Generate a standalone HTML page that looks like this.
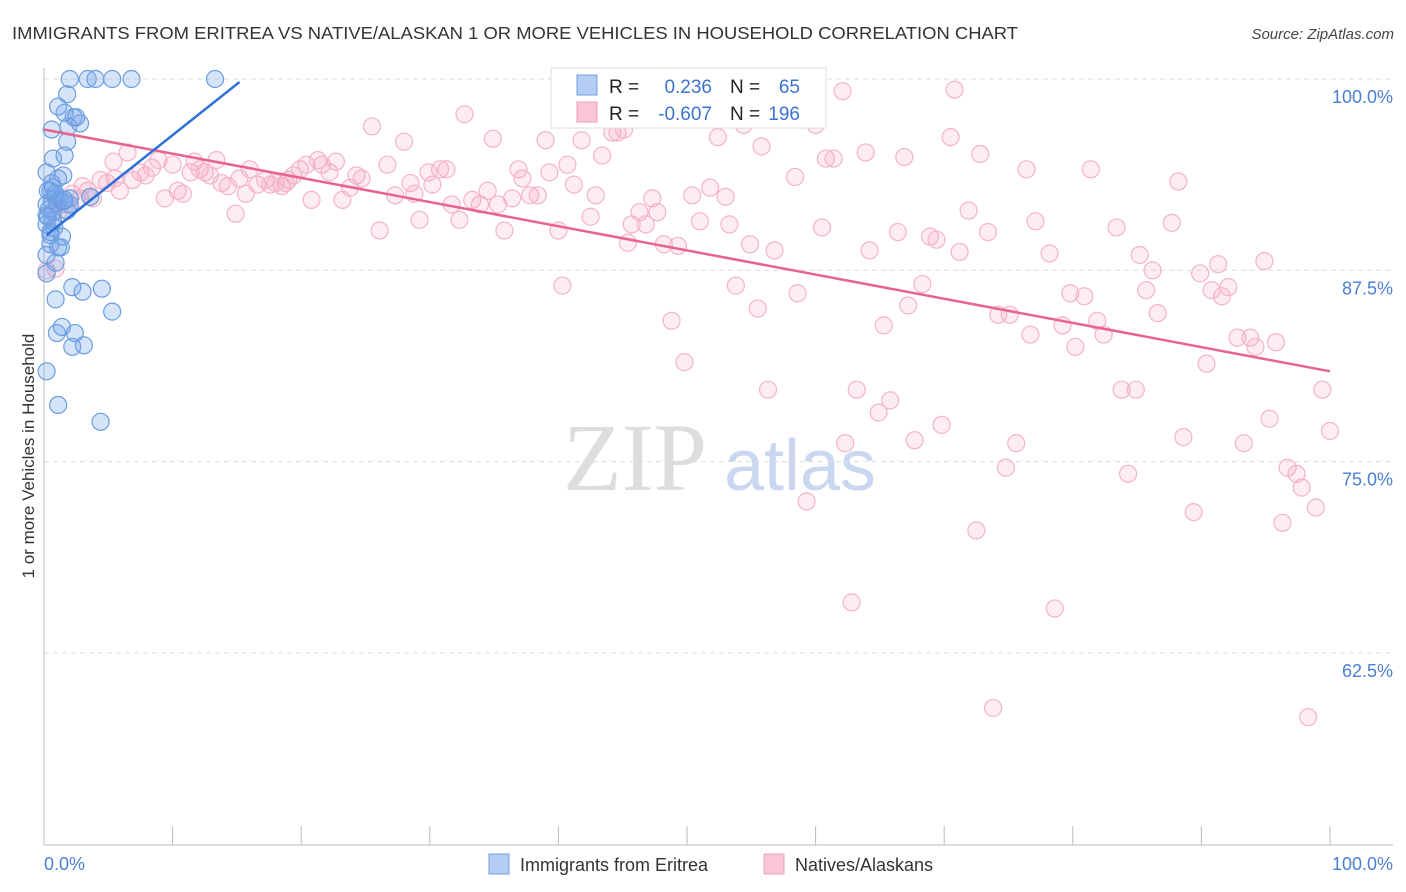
<!DOCTYPE html>
<html><head><meta charset="utf-8"><style>
body{margin:0;background:#fff;font-family:"Liberation Sans",sans-serif;}
svg{display:block}
</style></head><body>
<svg id="chart" width="1406" height="892" xmlns="http://www.w3.org/2000/svg">
<text x="12" y="39" font-size="17.5" fill="#333" textLength="1006" lengthAdjust="spacingAndGlyphs">IMMIGRANTS FROM ERITREA VS NATIVE/ALASKAN 1 OR MORE VEHICLES IN HOUSEHOLD CORRELATION CHART</text>
<text x="1394" y="39" font-size="15" fill="#444" text-anchor="end" font-style="italic">Source: ZipAtlas.com</text>
<text transform="translate(34,456) rotate(-90)" font-size="17" fill="#333" text-anchor="middle">1 or more Vehicles in Household</text>
<g font-size="96" text-anchor="middle"><text x="635" y="490" fill="#ddd" font-family="Liberation Serif">ZIP</text><text x="800" y="490" fill="#c9d8f0" font-size="72">atlas</text></g>
<g id="grid"></g><g id="axes"></g><g id="pts"></g><g id="lines"></g>
<g>
<rect x="551" y="68" width="275" height="60" fill="#fff" stroke="#ddd"/>
<rect x="577" y="75" width="20" height="20" fill="#b5cdf2" stroke="#6d9ee0"/>
<rect x="577" y="102" width="20" height="20" fill="#f9c6d5" stroke="#ee9fb8"/>
<text x="609" y="93" font-size="19" fill="#222">R =</text><text x="712" y="93" font-size="19" fill="#3b73d0" text-anchor="end">0.236</text>
<text x="730" y="93" font-size="19" fill="#222">N =</text><text x="800" y="93" font-size="19" fill="#3b73d0" text-anchor="end">65</text>
<text x="609" y="120" font-size="19" fill="#222">R =</text><text x="712" y="120" font-size="19" fill="#3b73d0" text-anchor="end">-0.607</text>
<text x="730" y="120" font-size="19" fill="#222">N =</text><text x="800" y="120" font-size="19" fill="#3b73d0" text-anchor="end">196</text>
</g>
<g font-size="18" fill="#333">
<rect x="489" y="854" width="20" height="20" fill="#b5cdf2" stroke="#6d9ee0"/>
<text x="520" y="871">Immigrants from Eritrea</text>
<rect x="764" y="854" width="20" height="20" fill="#f9c6d5" stroke="#ee9fb8"/>
<text x="795" y="871">Natives/Alaskans</text>
</g>
<text x="44" y="870" font-size="18" fill="#4a7fd4">0.0%</text>
<text x="1393" y="870" font-size="18" fill="#4a7fd4" text-anchor="end">100.0%</text>
</svg>
<script>
const yTicks=[100,87.5,75,62.5];
const yTickLabels=["100.0%","87.5%","75.0%","62.5%"];
const xTicks=[0,10,20,30,40,50,60,70,80,90,100];
const blueX=[0.2,1.1,4.4,5.3,1.0,1.4,2.2,2.4,3.1,0.2,0.9,2.2,3.0,4.5,0.5,1.1,1.4,0.5,0.7,0.2,0.7,1.0,0.2,0.6,0.9,1.8,2.0,0.3,0.7,1.1,1.5,0.2,0.7,1.6,0.6,1.8,1.9,2.3,2.8,2.5,1.6,1.1,1.8,2.0,3.4,4.0,5.3,6.8,13.3,3.6,0.6,1.2,0.5,0.2,0.9,0.2,1.5,0.4,2.0,0.8,1.3,0.3,0.9,1.6,0.5];
const blueY=[80.9,78.7,77.6,84.8,83.4,83.8,82.5,83.4,82.6,87.3,85.6,86.4,86.1,86.3,89.2,89.0,89.7,90.0,90.7,90.5,91.3,91.9,91.1,92.1,92.3,91.4,91.8,92.7,92.9,93.5,93.7,93.9,94.8,95.0,96.7,95.9,96.9,97.5,97.1,97.5,97.8,98.2,99.0,100,100,100,100,100,100,92.3,93.2,92.1,92.7,91.8,88.0,88.5,92.0,91.5,92.2,90.3,89.0,91.0,92.5,92.1,89.8];
const pinkX=[0.2,0.9,1.2,1.7,2.2,2.8,3.4,3.8,4.4,4.9,5.4,5.9,6.5,6.9,7.5,7.9,8.4,8.9,9.4,10.0,10.4,10.8,11.4,11.7,12.1,12.5,12.9,13.4,13.8,14.3,14.9,15.2,15.7,16.0,16.6,17.2,17.6,18.0,18.5,19.0,19.4,19.9,20.4,20.8,21.3,21.6,22.2,22.7,23.2,23.8,24.3,24.7,25.5,26.1,26.7,27.3,28.0,28.5,28.8,29.2,29.9,30.2,30.8,31.3,31.7,32.3,32.7,33.3,33.9,34.5,34.9,35.3,35.8,36.4,36.9,37.2,37.8,38.4,39.0,39.3,40.0,40.3,40.7,41.2,41.8,42.5,42.9,43.4,44.2,44.6,45.1,45.4,45.7,46.3,46.8,47.3,47.7,48.2,48.8,49.3,49.8,50.4,51.0,51.8,52.4,53.0,53.3,53.8,54.4,54.9,55.5,55.8,56.3,56.8,57.4,58.4,58.6,59.3,60.0,60.5,60.8,61.4,62.1,62.3,62.8,63.2,63.9,64.2,64.9,65.3,65.8,66.4,66.9,67.2,67.7,68.3,68.9,69.4,69.8,70.5,70.8,71.2,71.9,72.5,72.8,73.4,73.8,74.2,74.8,75.1,75.6,76.4,76.7,77.1,78.2,78.6,79.2,79.8,80.2,80.9,81.4,81.9,82.4,83.4,83.8,84.3,84.9,85.2,85.7,86.2,86.6,87.7,88.2,88.6,89.4,89.9,90.4,90.8,91.3,91.6,92.1,92.8,93.3,93.8,94.2,94.9,95.3,95.8,96.3,96.7,97.4,97.8,98.3,98.9,99.4,100,1.0,3.0,5.5,18.8];
const pinkY=[87.5,87.6,91.4,91.8,92.5,92.2,92.7,92.2,93.4,93.2,94.6,92.7,95.2,93.4,93.9,93.7,94.2,94.7,92.2,94.4,92.7,92.5,93.9,94.6,94.1,93.9,93.7,94.7,93.2,93.0,91.2,93.5,92.5,94.1,93.1,93.4,93.1,93.2,93.0,93.4,93.7,94.1,94.4,92.1,94.7,94.4,93.9,94.6,92.1,92.9,93.7,93.5,96.9,90.1,94.4,92.4,95.9,93.2,92.5,90.8,93.9,93.1,94.1,94.1,91.8,90.8,97.7,92.1,91.8,92.7,96.1,91.8,90.1,92.2,94.1,93.5,92.4,92.4,96.0,93.9,90.1,86.5,94.4,93.1,96.0,91.0,92.4,95.0,96.5,96.5,96.7,89.3,90.5,91.3,90.5,92.2,91.3,89.2,84.2,89.1,81.5,92.4,90.7,92.9,96.2,92.3,90.5,86.5,97.0,89.2,85.0,95.6,79.7,88.8,97.5,93.6,86.0,72.4,97.0,90.3,94.8,94.8,99.2,76.2,65.8,79.7,95.2,88.8,78.2,83.9,79.0,90.0,94.9,85.2,76.4,86.6,89.7,89.5,77.4,96.2,99.3,88.7,91.4,70.5,95.1,90.0,58.9,84.6,74.6,84.6,76.2,94.1,83.3,90.7,88.6,65.4,83.9,86.0,82.5,85.8,94.1,84.2,83.3,90.3,79.7,74.2,79.7,88.5,86.2,87.5,84.7,90.6,93.3,76.6,71.7,87.3,81.4,86.2,87.9,85.8,86.4,83.1,76.2,83.1,82.5,88.1,77.8,82.8,71.0,74.6,74.2,73.3,58.3,72.0,79.7,77.0,91.8,93.0,93.5,93.2];
const blueTrend=[[0.2,89.8],[15.2,99.8]];
const pinkTrend=[[0,96.7],[100,80.9]];
const NS="http://www.w3.org/2000/svg";
const X=v=>44+v*12.86, Y=v=>79+(100-v)*15.304;
function mk(tag,attrs,parent){const e=document.createElementNS(NS,tag);for(const k in attrs)e.setAttribute(k,attrs[k]);parent.appendChild(e);return e;}
const grid=document.getElementById('grid'),axes=document.getElementById('axes'),pts=document.getElementById('pts'),lines=document.getElementById('lines');
yTicks.forEach((t,i)=>{
 const l=mk('line',{x1:44,x2:1393,y1:Y(t),y2:Y(t),stroke:'#ddd','stroke-dasharray':'5,4'},grid);
 
 
 const tx=mk('text',{x:1393,y:Y(t)+24,'font-size':18,fill:'#4a7fd4','text-anchor':'end'},grid);
 tx.textContent=yTickLabels[i];
 
 
});
const ax=mk('line',{x1:44,x2:1393,y1:845,y2:845,stroke:'#bbb'},axes);


const ay=mk('line',{x1:44,x2:44,y1:68,y2:845,stroke:'#bbb'},axes);


xTicks.forEach(t=>{
 const l=mk('line',{x1:X(t),x2:X(t),y1:826,y2:845,stroke:'#bbb'},axes);
 
 
});
pinkX.forEach((x,i)=>{
 const c=mk('circle',{cx:X(x),cy:Y(pinkY[i]),r:8.5,fill:'rgba(244,160,188,0.2)',stroke:'#f4b3c8','stroke-width':1.2},pts);
 
 
});
blueX.forEach((x,i)=>{
 const c=mk('circle',{cx:X(x),cy:Y(blueY[i]),r:8.5,fill:'rgba(120,165,235,0.3)',stroke:'#6a9ddf','stroke-width':1.2},pts);
 
 
});
const pl=mk('line',{x1:X(pinkTrend[0][0]),y1:Y(pinkTrend[0][1]),x2:X(pinkTrend[1][0]),y2:Y(pinkTrend[1][1]),stroke:'#e8648f','stroke-width':2.5},lines);


const bl=mk('line',{x1:X(blueTrend[0][0]),y1:Y(blueTrend[0][1]),x2:X(blueTrend[1][0]),y2:Y(blueTrend[1][1]),stroke:'#2c6fd6','stroke-width':2.5},lines);


</script>
</body></html>
